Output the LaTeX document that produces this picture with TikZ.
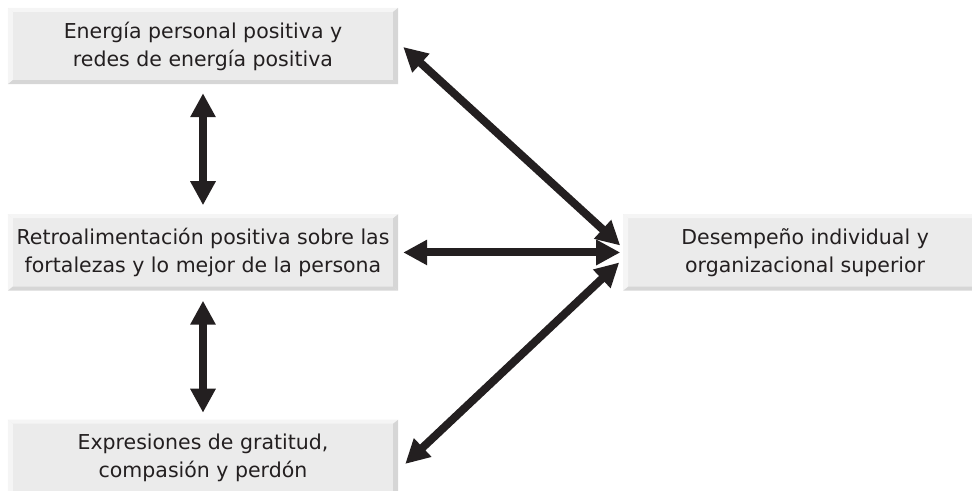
\documentclass[tikz,border=0pt]{standalone}
\usepackage{fontspec}
\setmainfont{DejaVu Sans}
\usepackage{tikz}
\usetikzlibrary{arrows.meta, positioning}
\definecolor{ink}{HTML}{231F20}
\definecolor{boxfill}{HTML}{EBEBEB}
\definecolor{bevdark}{HTML}{D6D6D6}
\definecolor{bevlight}{HTML}{F5F5F5}

\begin{document}
\begin{tikzpicture}[
  box/.style = {rectangle, fill=boxfill, minimum width=11.7cm, minimum height=2.28cm,
                inner sep=0pt, align=center, text=ink,
                font=\fontsize{17.5}{23.8}\selectfont},
  arr/.style = {{Triangle[length=0.72cm, width=0.72cm]}-{Triangle[length=0.72cm, width=0.72cm]},
                line width=0.24cm, draw=ink},
]
  \useasboundingbox (-6.09,1.38) rectangle (23.07,-13.35);

  \node[box] (energia) at (0,0) {Energía personal positiva y\\redes de energía positiva};
  \node[box, below=3.9cm of energia] (retro) {Retroalimentación positiva sobre las\\fortalezas y lo mejor de la persona};
  \node[box, below=3.87cm of retro] (gratitud) {Expresiones de gratitud,\\compasión y perdón};
  \node[box, minimum width=10.9cm, right=6.75cm of retro] (desempeno) {Desempeño individual y\\organizacional superior};

  % bevelled edges
  \foreach \n in {energia, retro, gratitud, desempeno} {
    \fill[bevlight] (\n.north west) -- (\n.north east) -- ([shift={(-0.15,-0.12)}]\n.north east)
      -- ([shift={(0.15,-0.12)}]\n.north west) -- cycle;
    \fill[bevlight] (\n.north west) -- (\n.south west) -- ([shift={(0.15,0.12)}]\n.south west)
      -- ([shift={(0.15,-0.12)}]\n.north west) -- cycle;
    \fill[bevdark] (\n.north east) -- (\n.south east) -- ([shift={(-0.15,0.12)}]\n.south east)
      -- ([shift={(-0.15,-0.12)}]\n.north east) -- cycle;
    \fill[bevdark] (\n.south west) -- (\n.south east) -- ([shift={(-0.15,0.12)}]\n.south east)
      -- ([shift={(0.15,0.12)}]\n.south west) -- cycle;
  }

  \draw[arr] ([yshift=-0.27cm]energia.south) -- ([yshift=0.27cm]retro.north);
  \draw[arr] ([yshift=-0.3cm]retro.south) -- ([yshift=0.21cm]gratitud.north);
  \draw[arr] ([xshift=0.15cm]retro.east) -- ([xshift=-0.09cm]desempeno.west);
  \draw[arr] ([shift={(0.15,-0.03)}]energia.east) -- ([shift={(-0.09,0.21)}]desempeno.west);
  \draw[arr] ([shift={(0.21,-0.18)}]gratitud.east) -- ([shift={(-0.12,-0.3)}]desempeno.west);
\end{tikzpicture}
\end{document}
